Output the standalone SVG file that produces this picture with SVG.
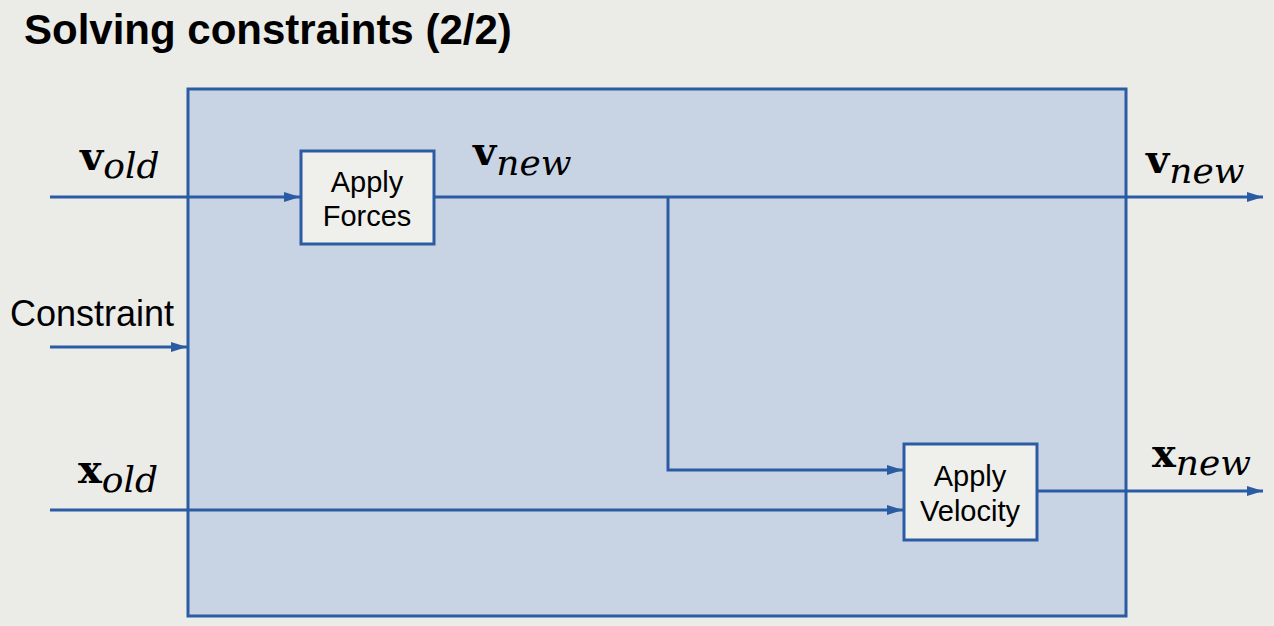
<svg xmlns="http://www.w3.org/2000/svg" width="1274" height="626" viewBox="0 0 1274 626">
<style>
.t{font-family:"Liberation Sans",Arial,sans-serif;fill:#000}
.m{font-family:"DejaVu Serif","Liberation Serif",serif;fill:#000}
.b{font-weight:bold;font-size:40px}
.s{font-style:italic;font-size:36px}
.ln{stroke:#2b5ca3;stroke-width:3;fill:none}
.box{fill:#efefec;stroke:#2b5ca3;stroke-width:3}
</style>
<defs>
<marker id="ah" viewBox="0 0 16 10" refX="16" refY="5" markerWidth="16" markerHeight="10" markerUnits="userSpaceOnUse" orient="auto">
<path d="M0,0L16,5L0,10z" fill="#2b5ca3"/>
</marker>
</defs>
<rect width="1274" height="626" fill="#ebebe8"/>
<text class="t" x="24" y="44" font-size="42" font-weight="bold">Solving constraints (2/2)</text>
<g id="system"><rect x="188" y="89" width="938" height="527" fill="#c8d4e4" stroke="#2b5ca3" stroke-width="3"/></g>
<g id="connectors">
<line class="ln" x1="50" y1="197" x2="300" y2="197" marker-end="url(#ah)"/>
<line class="ln" x1="50" y1="347" x2="187" y2="347" marker-end="url(#ah)"/>
<line class="ln" x1="434" y1="197" x2="1263" y2="197" marker-end="url(#ah)"/>
<polyline class="ln" points="668,197 668,470 903,470" marker-end="url(#ah)"/>
<line class="ln" x1="50" y1="510" x2="903" y2="510" marker-end="url(#ah)"/>
<line class="ln" x1="1037" y1="491" x2="1263" y2="491" marker-end="url(#ah)"/>
</g>
<g id="applyForces"><rect class="box" x="301" y="151" width="133" height="93"/>
<text class="t" font-size="29" text-anchor="middle"><tspan x="367" y="192">Apply</tspan><tspan x="367" y="226">Forces</tspan></text></g>
<g id="applyVelocity"><rect class="box" x="904" y="444" width="133" height="96"/>
<text class="t" font-size="29" text-anchor="middle"><tspan x="970" y="486">Apply</tspan><tspan x="970" y="521">Velocity</tspan></text></g>
<g id="labels">
<text class="m" x="80" y="170"><tspan class="b">v</tspan><tspan class="s" dy="8">old</tspan></text>
<text class="m" x="473" y="165"><tspan class="b">v</tspan><tspan class="s" dy="10">new</tspan></text>
<text class="m" x="1146" y="173"><tspan class="b">v</tspan><tspan class="s" dy="10">new</tspan></text>
<text class="m" x="78" y="483"><tspan class="b">x</tspan><tspan class="s" dy="9">old</tspan></text>
<text class="m" x="1152" y="467"><tspan class="b">x</tspan><tspan class="s" dy="8">new</tspan></text>
<text class="t" x="10" y="326" font-size="36">Constraint</text>
</g>
</svg>
